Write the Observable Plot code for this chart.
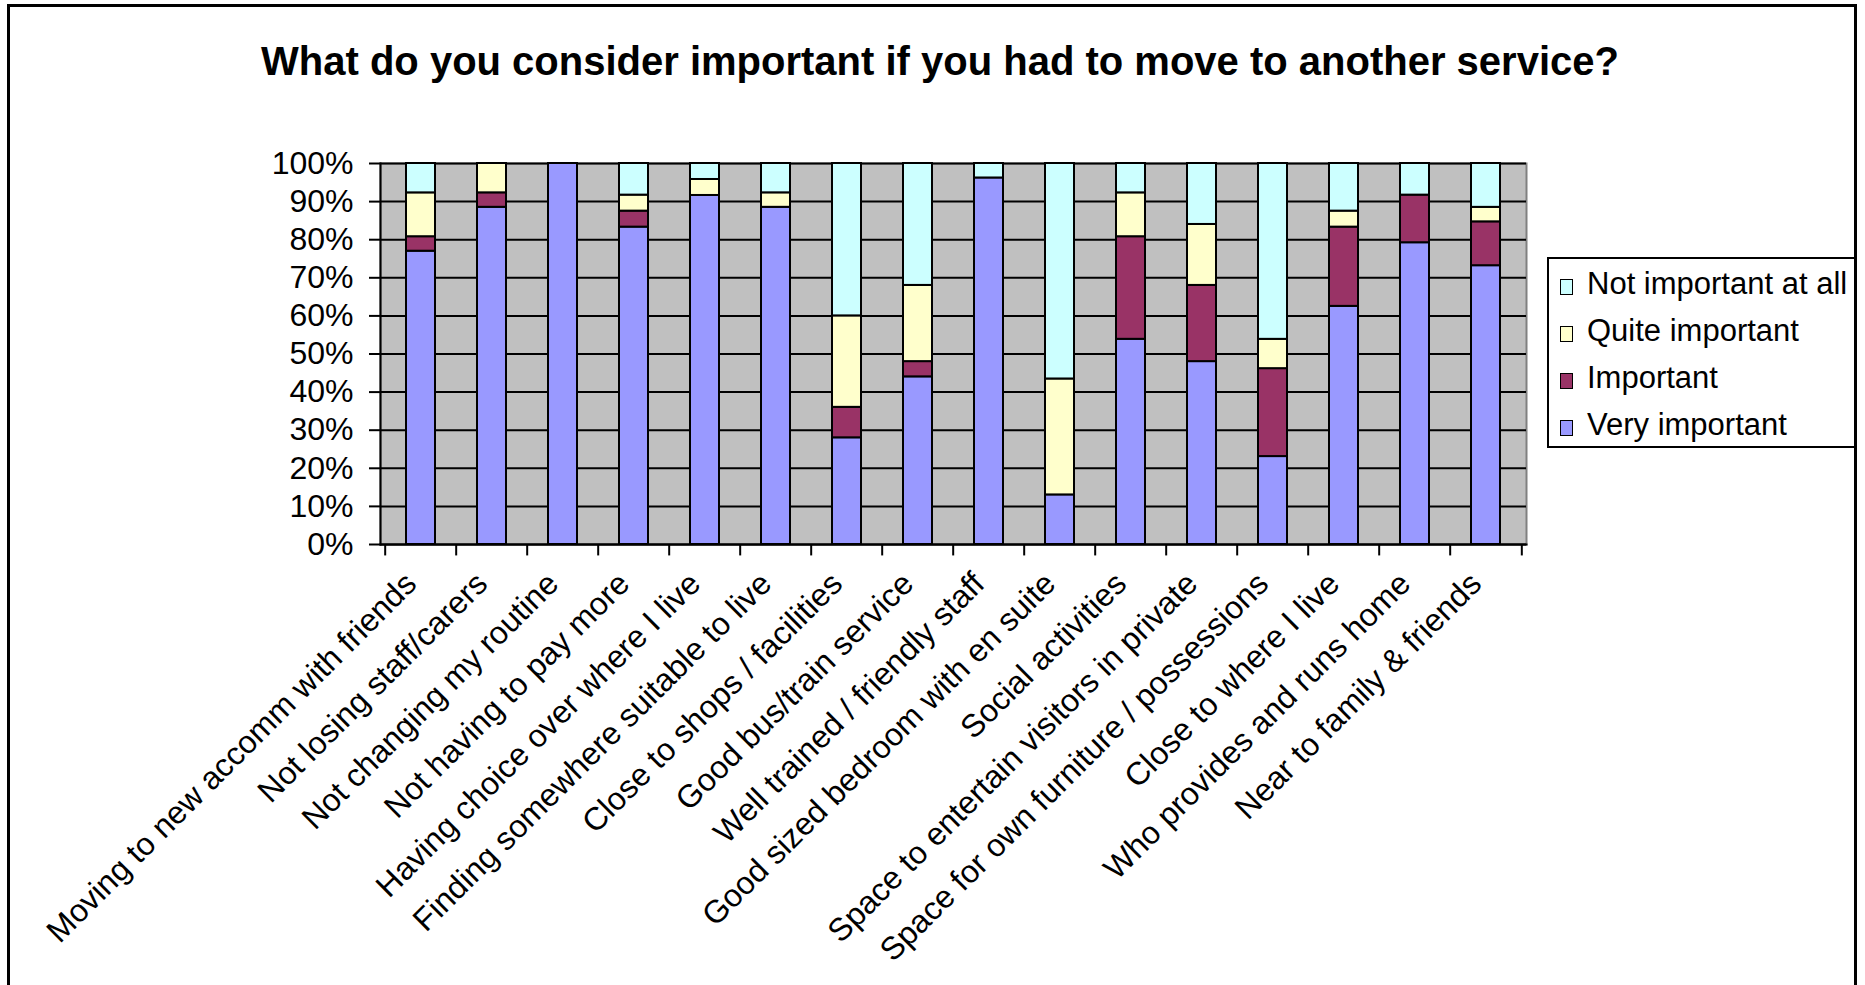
<!DOCTYPE html>
<html>
<head>
<meta charset="utf-8">
<script src="https://cdn.jsdelivr.net/npm/d3@7"></script>
<script src="https://cdn.jsdelivr.net/npm/@observablehq/plot@0.6"></script>
<style>
  html, body { margin: 0; padding: 0; background: #fff; }
  #wrap { position: relative; width: 1865px; height: 985px; overflow: hidden; font-family: "Liberation Sans", Arial, sans-serif; }
  #frame { position: absolute; left: 7px; top: 4px; width: 1850px; height: 1100px; border: 3px solid #000; box-sizing: border-box; }
  #title { position: absolute; left: 0; width: 1880px; top: 37px; text-align: center; font-weight: bold; font-size: 40px; line-height: 48px; color: #000; }
  #chart { position: absolute; left: 0; top: 0; }
  #legend { position: absolute; left: 1547px; top: 257px; width: 309px; height: 191px; border: 2px solid #000; box-sizing: border-box; background: #fff; }
  .item { position: absolute; left: 11px; font-size: 31px; line-height: 34px; color: #000; white-space: nowrap; }
  .sw { display: inline-block; width: 13px; height: 16px; border: 1.5px solid #000; box-sizing: border-box; margin-right: 14px; vertical-align: -1px; }
</style>
</head>
<body>
<div id="wrap">
  <div id="frame"></div>
  <div id="chart"></div>
  <div id="title"></div>
  <div id="legend"></div>
</div>
<script>
const titleText = "What do you consider important if you had to move to another service?";

const categories = [
  "Moving to new accomm with friends",
  "Not losing staff/carers",
  "Not changing my routine",
  "Not having to pay more",
  "Having choice over where I live",
  "Finding somewhere suitable to live",
  "Close to shops / facilities",
  "Good bus/train service",
  "Well trained / friendly staff",
  "Good sized bedroom with en suite",
  "Social activities",
  "Space to entertain visitors in private",
  "Space for own furniture / possessions",
  "Close to where I live",
  "Who provides and runs home",
  "Near to family & friends"
];

const seriesNames = ["Very important", "Important", "Quite important", "Not important at all"];
const seriesColors = ["#9999FF", "#993366", "#FFFFCC", "#CCFFFF"];

const veryImportant  = [76.9, 88.5, 100, 83.3, 91.7, 88.5, 28, 44, 96.2, 13.0, 53.8, 48, 23.1, 62.5, 79.2, 73.1];
const important      = [3.8, 3.8, 0, 4.2, 0, 0, 8, 4, 0, 0, 26.9, 20, 23.1, 20.8, 12.5, 11.5];
const quiteImportant = [11.5, 7.7, 0, 4.2, 4.2, 3.8, 24, 20, 0, 30.4, 11.5, 16, 7.7, 4.2, 0, 3.8];
const notImportant   = [7.7, 0, 0, 8.3, 4.2, 7.7, 40, 32, 3.8, 56.5, 7.7, 16, 46.2, 12.5, 8.3, 11.5];

const yTicks = [0, 0.1, 0.2, 0.3, 0.4, 0.5, 0.6, 0.7, 0.8, 0.9, 1];

const seriesValues = [veryImportant, important, quiteImportant, notImportant];
const data = [];
seriesNames.forEach((s, si) => {
  categories.forEach((c, ci) => {
    data.push({category: c, series: s, value: seriesValues[si][ci]});
  });
});
const barsData = data.filter(d => d.value > 0);

const W = 1865, H = 985;
const mL = 380, mR = W - 1526, mT = 163, mB = H - 544;
const step = (W - mL - mR) / categories.length;

const chart = Plot.plot({
  width: W,
  height: H,
  marginLeft: mL,
  marginRight: mR,
  marginTop: mT,
  marginBottom: mB,
  style: {fontFamily: "'Liberation Sans', Arial, sans-serif", fontSize: "32px", color: "#000", background: "transparent", overflow: "visible"},
  x: {domain: categories, paddingInner: 0.59, paddingOuter: 0.295, label: null},
  y: {domain: [0, 1], label: null},
  color: {domain: seriesNames, range: seriesColors},
  marks: [
    Plot.frame({fill: "#C0C0C0", stroke: "#808080", strokeWidth: 2}),
    Plot.gridY(yTicks, {stroke: "#000", strokeOpacity: 1, strokeWidth: 2}),
    Plot.barY(barsData, Plot.stackY({x: "category", y: "value", fill: "series", offset: "normalize", stroke: "#000", strokeWidth: 2})),
    Plot.frame({anchor: "left", stroke: "#000", strokeWidth: 2}),
    Plot.frame({anchor: "bottom", stroke: "#000", strokeWidth: 2}),
    Plot.axisY({ticks: yTicks, tickFormat: d3.format(".0%"), tickSize: 11, tickPadding: 16, stroke: "#000", strokeWidth: 2, fontSize: 32, label: null}),
    Plot.ruleX(categories, {x: d => d, dx: -step / 2, y1: 0, y2: -0.03, stroke: "#000", strokeWidth: 2}),
    Plot.ruleX(categories.slice(-1), {x: d => d, dx: step / 2, y1: 0, y2: -0.03, stroke: "#000", strokeWidth: 2}),
    Plot.axisX({tickRotate: -45, tickSize: 0, tickPadding: 34, dx: -10, fontSize: 32, label: null})
  ]
});
document.getElementById("chart").appendChild(chart);

document.getElementById("title").textContent = titleText;

const legend = document.getElementById("legend");
const legendOrder = [3, 2, 1, 0];
legendOrder.forEach((si, i) => {
  const item = document.createElement("div");
  item.className = "item";
  item.style.top = (8 + i * 47) + "px";
  const sw = document.createElement("span");
  sw.className = "sw";
  sw.style.background = seriesColors[si];
  item.appendChild(sw);
  item.appendChild(document.createTextNode(seriesNames[si]));
  legend.appendChild(item);
});
</script>
</body>
</html>
